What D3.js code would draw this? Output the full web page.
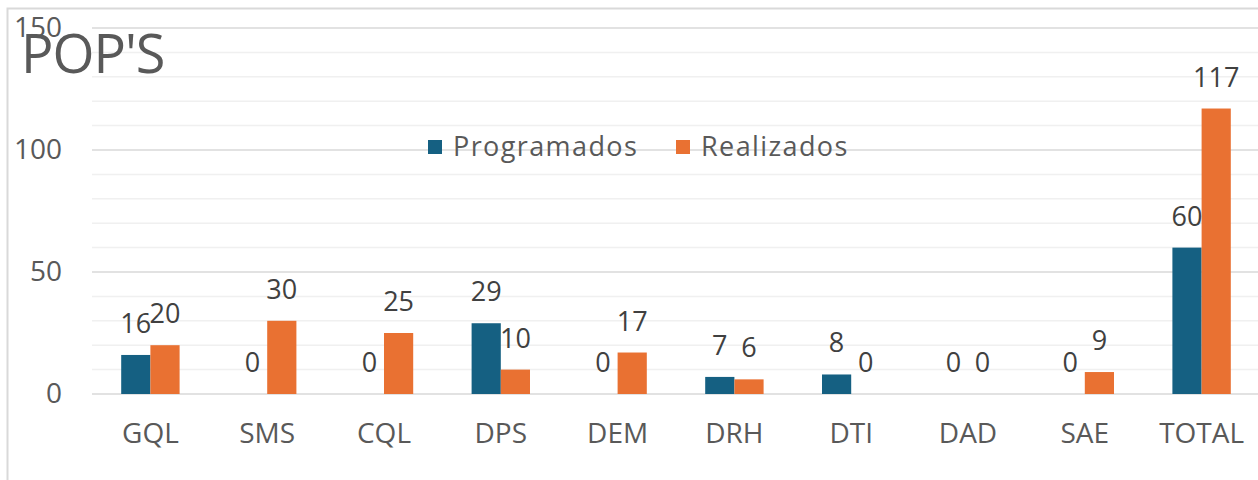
<!DOCTYPE html>
<html>
<head>
<meta charset="utf-8">
<script src="https://cdn.jsdelivr.net/npm/d3@7"></script>
<style>
  html, body { margin: 0; padding: 0; background: #fff; }
  svg text { font-family: "Open Sans", "DejaVu Sans", sans-serif; }
</style>
</head>
<body>
<div id="chart"></div>
<script>
const categories = ["GQL", "SMS", "CQL", "DPS", "DEM", "DRH", "DTI", "DAD", "SAE", "TOTAL"];
const programados = [16, 0, 0, 29, 0, 7, 8, 0, 0, 60];
const realizados = [20, 30, 25, 10, 17, 6, 0, 0, 9, 117];
const seriesNames = ["Programados", "Realizados"];
const yTicks = [0, 50, 100, 150];

const width = 1258;
const height = 480;
const colors = ["#156082", "#E97132"];

const svg = d3.select("#chart")
    .append("svg")
    .attr("width", width)
    .attr("height", height);

// chart frame
svg.append("rect")
    .attr("x", 7.5)
    .attr("y", 8.5)
    .attr("width", width + 20)
    .attr("height", height + 20)
    .style("fill", "#fff")
    .style("stroke", "#d9d9d9")
    .style("stroke-width", 2);

const x = d3.scaleBand()
    .domain(categories)
    .range([92, 1260])
    .paddingInner(0.5)
    .paddingOuter(0.25);

const x1 = d3.scaleBand()
    .domain(seriesNames)
    .range([0, x.bandwidth()]);

const y = d3.scaleLinear()
    .domain([0, 150])
    .range([394, 28]);

// minor gridlines
svg.append("g")
    .selectAll("line")
    .data(d3.range(10, 150, 10).filter(v => v % 50 !== 0))
    .enter().append("line")
    .attr("x1", 92)
    .attr("x2", width)
    .attr("y1", d => y(d))
    .attr("y2", d => y(d))
    .style("stroke", "#f0f0f0")
    .style("stroke-width", 1.5);

// major gridlines
svg.append("g")
    .selectAll("line")
    .data(yTicks)
    .enter().append("line")
    .attr("x1", 92)
    .attr("x2", width)
    .attr("y1", d => y(d))
    .attr("y2", d => y(d))
    .style("stroke", "#d9d9d9")
    .style("stroke-width", 1.5);

// y axis labels
const yAxis = d3.axisLeft(y).tickValues(yTicks).tickSize(0).tickPadding(0);
svg.append("g")
    .attr("transform", "translate(62,0)")
    .call(yAxis)
    .call(g => g.select(".domain").remove())
    .selectAll("text")
    .style("font-size", "28px")
    .style("fill", "#595959");

// x axis labels
const xAxis = d3.axisBottom(x).tickSize(0).tickPadding(0);
svg.append("g")
    .attr("transform", "translate(0,423)")
    .call(xAxis)
    .call(g => g.select(".domain").remove())
    .selectAll("text")
    .style("font-size", "28px")
    .style("fill", "#595959");

const rows = categories.map((c, i) => ({
    cat: c,
    vals: [
        { key: seriesNames[0], value: programados[i] },
        { key: seriesNames[1], value: realizados[i] }
    ]
}));

const groups = svg.append("g")
    .selectAll("g")
    .data(rows)
    .enter().append("g")
    .attr("transform", d => `translate(${x(d.cat)},0)`);

groups.selectAll("rect")
    .data(d => d.vals)
    .enter().append("rect")
    .attr("x", d => x1(d.key))
    .attr("y", d => y(d.value))
    .attr("width", x1.bandwidth())
    .attr("height", d => y(0) - y(d.value))
    .style("fill", (d, i) => colors[i]);

groups.selectAll("text")
    .data(d => d.vals)
    .enter().append("text")
    .attr("x", d => x1(d.key) + x1.bandwidth() / 2)
    .attr("y", d => y(d.value) - 22)
    .attr("text-anchor", "middle")
    .text(d => d.value)
    .style("font-size", "27px")
    .style("fill", "#404040");

// title
svg.append("text")
    .attr("x", 21)
    .attr("y", 73)
    .text("POP'S")
    .style("font-size", "54px")
    .style("letter-spacing", "-1px")
    .style("fill", "#595959");

// legend
const legend = svg.append("g");
const legendItems = [
    { name: seriesNames[0], x: 428 },
    { name: seriesNames[1], x: 676 }
];
legend.selectAll("rect")
    .data(legendItems)
    .enter().append("rect")
    .attr("x", d => d.x)
    .attr("y", 140)
    .attr("width", 14)
    .attr("height", 14)
    .style("fill", (d, i) => colors[i]);
legend.selectAll("text")
    .data(legendItems)
    .enter().append("text")
    .attr("x", d => d.x + 25)
    .attr("y", 156)
    .text(d => d.name)
    .style("font-size", "27px")
    .style("letter-spacing", "1.4px")
    .style("fill", "#595959");
</script>
</body>
</html>
